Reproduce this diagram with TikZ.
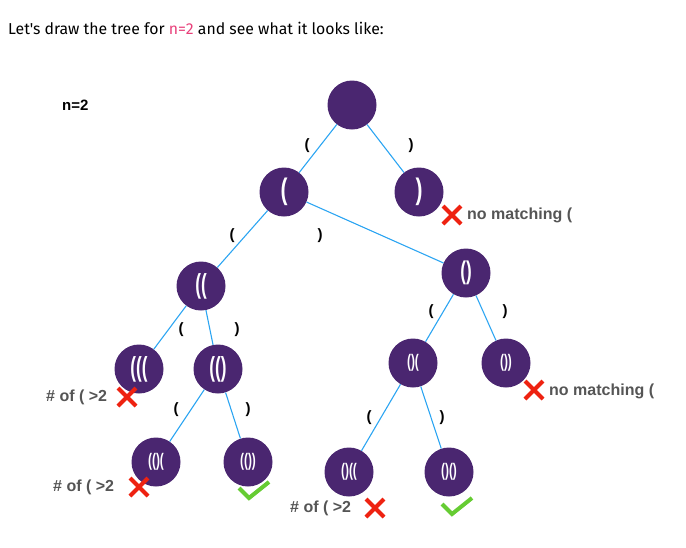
\documentclass[tikz,border=0pt]{standalone}
\usepackage{fontspec}
\setmainfont{Fira Sans}[Ligatures=TeXOff]
\newfontfamily\lab{Liberation Sans}
\usetikzlibrary{positioning}
\definecolor{nodepurple}{HTML}{4A2670}
\definecolor{edgeblue}{HTML}{2CA5F2}
\definecolor{pinkn}{HTML}{E8407A}
\definecolor{xred}{HTML}{EE2211}
\definecolor{okgreen}{HTML}{66CC33}
\definecolor{graytxt}{HTML}{555555}
\tikzset{
  tnode/.style={circle,fill=nodepurple,minimum size=49pt,inner sep=0pt,text=white},
  big/.style={font=\lab\bfseries\fontsize{22}{22}\selectfont},
  mid/.style={font=\lab\bfseries\fontsize{19}{19}\selectfont},
  sml/.style={font=\lab\bfseries\fontsize{14}{14}\selectfont},
  edge/.style={draw=edgeblue,line width=1.1pt},
  elab/.style={font=\lab\bfseries\fontsize{15}{15}\selectfont,text=black},
  note/.style={font=\lab\bfseries\fontsize{16}{16}\selectfont,text=graytxt,anchor=west,inner sep=0pt},
  xmark/.style={draw=xred,line width=4pt},
  okmark/.style={draw=okgreen,line width=4pt}
}
\begin{document}
\begin{tikzpicture}[x=1pt,y=-1pt]
\useasboundingbox (0,0) rectangle (686,547);
\node[anchor=west,inner sep=0pt,font=\fontsize{15.8}{15.8}\selectfont] (title) at (8,28) {Let's draw the tree for \textcolor{pinkn}{n=2} and see what it looks like:};
\node[anchor=west,inner sep=0pt,font=\lab\bfseries\fontsize{15}{15}\selectfont] (nlab) at (62,105) {n=2};

\node[tnode] (r) at (352,105) {};
\node[tnode,big] (a) at (284,192) {\scalebox{0.95}[1.35]{(}};
\node[tnode,big] (b) at (419,192) {\scalebox{0.95}[1.35]{)}};
\node[tnode,mid] (aa) at (201,286) {\scalebox{0.9}[1.45]{((}};
\node[tnode,mid] (ab) at (466,273) {\scalebox{0.9}[1.35]{()}};
\node[tnode,mid] (aaa) at (139,369) {\scalebox{0.9}[1.45]{(((}};
\node[tnode,mid] (aab) at (218,369) {\scalebox{0.9}[1.45]{(()}};
\node[tnode,sml] (aba) at (413,363) {\scalebox{0.85}[1.3]{()(}};
\node[tnode,sml] (abb) at (506,363) {\scalebox{0.85}[1.3]{())}};
\node[tnode,sml] (aaba) at (156,462) {\scalebox{0.85}[1.3]{(()(}};
\node[tnode,sml] (aabb) at (248,462) {\scalebox{0.85}[1.3]{(())}};
\node[tnode,sml] (abaa) at (349,472) {\scalebox{0.85}[1.3]{()((}};
\node[tnode,sml] (abab) at (449,472) {\scalebox{0.85}[1.3]{()()}};

\draw[edge] (r) -- (a);
\draw[edge] (r) -- (b);
\draw[edge] (a) -- (aa);
\draw[edge] (a) -- (ab);
\draw[edge] (aa) -- (aaa);
\draw[edge] (aa) -- (aab);
\draw[edge] (ab) -- (aba);
\draw[edge] (ab) -- (abb);
\draw[edge] (aab) -- (aaba);
\draw[edge] (aab) -- (aabb);
\draw[edge] (aba) -- (abaa);
\draw[edge] (aba) -- (abab);

\node[elab] (l1) at (307,146) {(};
\node[elab] (l2) at (411,146) {)};
\node[elab] (l3) at (232,236) {(};
\node[elab] (l4) at (320,236) {)};
\node[elab] (l5) at (181,330) {(};
\node[elab] (l6) at (237,330) {)};
\node[elab] (l7) at (431,312) {(};
\node[elab] (l8) at (505,312) {)};
\node[elab] (l9) at (176,410) {(};
\node[elab] (l10) at (248,410) {)};
\node[elab] (l11) at (369,418) {(};
\node[elab] (l12) at (442,418) {)};

% X marks
\coordinate (x1) at (452,215);
\draw[xmark] ([shift={(-9,-9)}]x1) -- ([shift={(9,9)}]x1) ([shift={(-9,9)}]x1) -- ([shift={(9,-9)}]x1);
\node[note] (n1) at (467,215) {no matching (};
\coordinate (x2) at (127,397);
\draw[xmark] ([shift={(-9,-9)}]x2) -- ([shift={(9,9)}]x2) ([shift={(-9,9)}]x2) -- ([shift={(9,-9)}]x2);
\node[note] (n2) at (46,397) {\# of ( >2};
\coordinate (x3) at (534,390);
\draw[xmark] ([shift={(-9,-9)}]x3) -- ([shift={(9,9)}]x3) ([shift={(-9,9)}]x3) -- ([shift={(9,-9)}]x3);
\node[note] (n3) at (549,391) {no matching (};
\coordinate (x4) at (139,487);
\draw[xmark] ([shift={(-9,-9)}]x4) -- ([shift={(9,9)}]x4) ([shift={(-9,9)}]x4) -- ([shift={(9,-9)}]x4);
\node[note] (n4) at (53,487) {\# of ( >2};
\coordinate (x5) at (375,508);
\draw[xmark] ([shift={(-9,-9)}]x5) -- ([shift={(9,9)}]x5) ([shift={(-9,9)}]x5) -- ([shift={(9,-9)}]x5);
\node[note] (n5) at (290,508) {\# of ( >2};

% check marks
\coordinate (c1) at (255,494);
\draw[okmark] ([shift={(-16,-6)}]c1) -- ([shift={(-6,4)}]c1) -- ([shift={(14,-12)}]c1);
\coordinate (c2) at (458,510);
\draw[okmark] ([shift={(-16,-6)}]c2) -- ([shift={(-6,4)}]c2) -- ([shift={(14,-12)}]c2);
\end{tikzpicture}
\end{document}
